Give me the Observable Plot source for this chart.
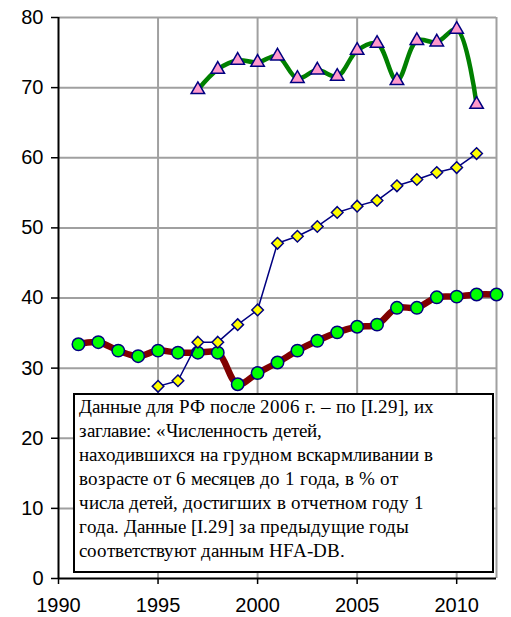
<!DOCTYPE html>
<html>
<head>
<meta charset="utf-8">
<script src="https://cdn.jsdelivr.net/npm/d3@7"></script>
<script src="https://cdn.jsdelivr.net/npm/@observablehq/plot@0.6"></script>
<style>
  @font-face { font-family: "NoteSerif"; src: local("Liberation Serif"), local("LiberationSerif"), local("Liberation Serif Regular"), local("LiberationSerif-Regular"); }
  #note, #note * { font-family: "NoteSerif", "Liberation Serif", "Times New Roman", serif !important; }
</style>
</head>
<body style="margin:0;padding:0;background:#fff">
<div id="wrap" style="position:relative;width:511px;height:617px">
  <div id="note" style="position:absolute;left:73px;top:393px;width:421px;height:180px;box-sizing:border-box;border:2px solid #000;background:#fff;font-size:19px;line-height:24px;padding:0 0 0 4px;color:#000;white-space:nowrap;z-index:2">
    <div>Данные для РФ после 2006 г. – по [I.29], их</div>
    <div>заглавие: «Численность детей,</div>
    <div>находившихся на грудном вскармливании в</div>
    <div>возрасте от 6 месяцев до 1 года, в % от</div>
    <div>числа детей, достигших в отчетном году 1</div>
    <div>года. Данные [I.29] за предыдущие годы</div>
    <div>соответствуют данным HFA-DB.</div>
  </div>
</div>
<script>
// Series 1: green line with pink triangles
const yearsTri = [1997,1998,1999,2000,2001,2002,2003,2004,2005,2006,2007,2008,2009,2010,2011];
const valsTri  = [69.7,72.6,73.9,73.6,74.5,71.3,72.5,71.6,75.3,76.3,71.0,76.7,76.5,78.3,67.6];
// Series 2: navy line with yellow diamonds
const yearsDia = [1995,1996,1997,1998,1999,2000,2001,2002,2003,2004,2005,2006,2007,2008,2009,2010,2011];
const valsDia  = [27.4,28.2,33.7,33.7,36.2,38.3,47.8,48.8,50.2,52.2,53.1,53.9,56.0,56.9,57.9,58.6,60.6];
// Series 3: maroon line with green circles (Russian Federation)
const yearsCir = [1991,1992,1993,1994,1995,1996,1997,1998,1999,2000,2001,2002,2003,2004,2005,2006,2007,2008,2009,2010,2011,2012];
const valsCir  = [33.4,33.7,32.5,31.7,32.5,32.2,32.2,32.2,27.7,29.3,30.8,32.5,33.9,35.1,35.9,36.2,38.6,38.6,40.1,40.2,40.5,40.5];

const xTicks = [1990,1995,2000,2005,2010];
const yTicks = [0,10,20,30,40,50,60,70,80];

const tri = yearsTri.map((x,i)=>({x, y: valsTri[i]}));
const dia = yearsDia.map((x,i)=>({x, y: valsDia[i]}));
const cir = yearsCir.map((x,i)=>({x, y: valsCir[i]}));

const chart = Plot.plot({
  width: 511, height: 617,
  marginLeft: 58, marginRight: 15, marginTop: 17, marginBottom: 39,
  style: { fontFamily: "'Liberation Sans', Arial, sans-serif", fontSize: "20px", background: "#fff", color: "#000", position: "absolute", left: "0px", top: "0px" },
  x: { domain: [1990, 2012] },
  y: { domain: [0, 80] },
  marks: [
    Plot.gridX([1995,2000,2005,2010,2012], { stroke: "#a0a0a0", strokeOpacity: 1, strokeWidth: 2 }),
    Plot.gridY(yTicks.filter(d => d > 0), { stroke: "#a0a0a0", strokeOpacity: 1, strokeWidth: 2 }),
    Plot.axisX(xTicks, { tickSize: 6, tickPadding: 13, tickFormat: d => String(d), fontSize: 20, strokeWidth: 1.5, label: null }),
    Plot.axisY(yTicks, { tickSize: 7, tickPadding: 8, fontSize: 20, strokeWidth: 1.5, label: null }),
    Plot.ruleY([0], { stroke: "#000", strokeWidth: 2 }),
    Plot.ruleX([1990], { stroke: "#000", strokeWidth: 2 }),
    Plot.line(cir, { x: "x", y: "y", stroke: "#800000", strokeWidth: 6.5, curve: "catmull-rom" }),
    Plot.dot(cir, { x: "x", y: "y", r: 6.2, fill: "#00ff00", stroke: "#000080", strokeWidth: 1.5 }),
    Plot.line(dia, { x: "x", y: "y", stroke: "#000080", strokeWidth: 1.5 }),
    Plot.dot(dia, { x: "x", y: "y", symbol: "diamond2", r: 5.2, fill: "#ffff00", stroke: "#000080", strokeWidth: 1.5 }),
    Plot.line(tri, { x: "x", y: "y", stroke: "#008000", strokeWidth: 4.5, curve: "catmull-rom" }),
    Plot.dot(tri, { x: "x", y: "y", symbol: "triangle", r: 5, fill: "#ff99cc", stroke: "#000080", strokeWidth: 1.5 })
  ]
});

const wrap = document.getElementById("wrap");
wrap.insertBefore(chart, wrap.firstChild);
</script>
</body>
</html>
